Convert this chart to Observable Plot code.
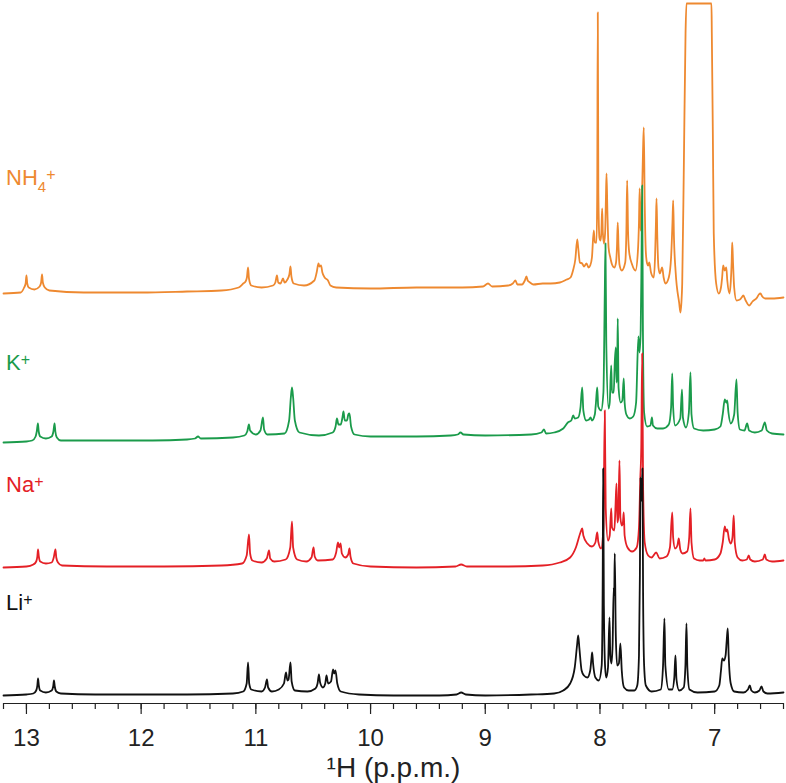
<!DOCTYPE html>
<html><head><meta charset="utf-8">
<script src="https://cdn.jsdelivr.net/npm/d3@7"></script>
<script src="https://cdn.jsdelivr.net/npm/@observablehq/plot@0.6"></script>
<style>body{margin:0;background:#fff;} svg{display:block;}</style>
</head><body><div id="chart"></div>
<script>
// ---- data ----
const seriesKeys = ["Li", "Na", "K", "NH4"];
const seriesMain = ["Li", "Na", "K", "NH"];
const seriesSub = ["", "", "", "4"];
const seriesSup = ["+", "+", "+", "+"];
const colors = ["#111111", "#E42026", "#1B9B4B", "#EE8930"];
const offsets = [8, 136, 261, 411];       // stacking offset of each trace
const labelLift = [85, 75, 72, 107];      // label height above trace baseline

const majorTicks = [13, 12, 11, 10, 9, 8, 7];
const minorTicks = [13.2, 13.0, 12.8, 12.6, 12.4, 12.2, 12.0, 11.8, 11.6, 11.4, 11.2, 11.0, 10.8, 10.6, 10.4, 10.2, 10.0,
  9.8, 9.6, 9.4, 9.2, 9.0, 8.8, 8.6, 8.4, 8.2, 8.0, 7.8, 7.6, 7.4, 7.2, 7.0, 6.8, 6.6, 6.4];
const xDomain = [13.2, 6.4];
const axisTitle = "¹H (p.p.m.)";

// [ppm, intensity]
const li = [[13.2,0],[13.0,1],[12.94,2],[12.915,5],[12.905,10],[12.899,17],[12.892,10],[12.88,5],[12.83,3],[12.78,5],[12.767,9],[12.760,15],[12.753,9],[12.74,4],[12.7,2],[12.4,1],[12.0,1],[11.6,1],[11.2,2],[11.11,4],[11.08,12],[11.068,33],[11.058,12],[11.04,6],[10.95,4],[10.92,8],[10.903,16],[10.893,8],[10.86,4],[10.80,6],[10.755,12],[10.737,23],[10.725,15],[10.715,16],[10.698,33],[10.688,14],[10.66,5],[10.55,4],[10.48,7],[10.462,12],[10.450,21],[10.44,13],[10.415,8],[10.395,12],[10.384,20],[10.37,12],[10.345,14],[10.327,26],[10.317,22],[10.306,25],[10.29,12],[10.26,4],[10.1,1],[9.8,0],[9.4,0],[9.25,1],[9.21,3],[9.17,1],[9.0,0],[8.6,1],[8.4,2],[8.32,5],[8.26,12],[8.22,28],[8.20,50],[8.190,60],[8.18,48],[8.16,25],[8.14,20],[8.11,18],[8.085,25],[8.075,36],[8.068,43],[8.06,32],[8.04,18],[8.01,15],[7.985,30],[7.976,120],[7.972,227],[7.966,90],[7.955,28],[7.945,18],[7.93,28],[7.917,78],[7.91,40],[7.90,32],[7.89,50],[7.880,108],[7.876,100],[7.871,142],[7.862,60],[7.85,30],[7.835,32],[7.822,52],[7.81,25],[7.79,8],[7.75,5],[7.70,5],[7.675,10],[7.66,40],[7.652,120],[7.647,218],[7.640,195],[7.634,200],[7.630,227],[7.624,100],[7.615,30],[7.60,10],[7.55,4],[7.47,6],[7.45,30],[7.438,77],[7.43,30],[7.40,6],[7.37,6],[7.352,18],[7.342,40],[7.333,16],[7.31,5],[7.27,8],[7.255,30],[7.246,72],[7.238,28],[7.22,6],[7.15,3],[7.0,4],[6.96,10],[6.945,25],[6.934,37],[6.92,35],[6.905,40],[6.895,55],[6.886,67],[6.878,40],[6.86,12],[6.83,4],[6.75,3],[6.71,6],[6.694,10],[6.68,5],[6.65,3],[6.61,5],[6.592,9],[6.575,4],[6.54,2],[6.4,3]];

const na = [[13.2,0],[13.0,1],[12.94,3],[12.915,6],[12.905,11],[12.899,18],[12.892,11],[12.88,6],[12.83,4],[12.78,5],[12.762,10],[12.747,18],[12.74,10],[12.725,5],[12.69,2],[12.3,1],[11.8,1],[11.3,2],[11.12,4],[11.08,12],[11.060,33],[11.05,14],[11.03,7],[10.95,5],[10.905,9],[10.885,17],[10.875,9],[10.84,6],[10.74,8],[10.70,20],[10.685,46],[10.675,20],[10.64,8],[10.56,6],[10.515,10],[10.497,20],[10.487,11],[10.46,7],[10.33,8],[10.30,15],[10.284,25],[10.275,20],[10.262,24],[10.25,14],[10.22,10],[10.195,13],[10.184,19],[10.175,11],[10.15,4],[10.0,1],[9.6,0],[9.26,1],[9.21,3],[9.16,1],[8.8,1],[8.5,2],[8.35,5],[8.26,10],[8.21,20],[8.17,35],[8.155,39],[8.145,32],[8.11,24],[8.07,21],[8.04,25],[8.024,35],[8.015,26],[7.99,19],[7.97,40],[7.958,157],[7.950,60],[7.93,27],[7.915,32],[7.902,59],[7.895,40],[7.875,37],[7.865,60],[7.856,84],[7.848,45],[7.840,50],[7.830,107],[7.822,50],[7.81,42],[7.80,45],[7.793,55],[7.785,32],[7.76,20],[7.72,16],[7.68,20],[7.66,40],[7.648,90],[7.640,120],[7.632,214],[7.624,80],[7.61,25],[7.58,12],[7.55,10],[7.51,15],[7.48,9],[7.42,11],[7.39,20],[7.370,55],[7.362,30],[7.345,19],[7.325,22],[7.313,29],[7.30,18],[7.28,14],[7.24,16],[7.222,30],[7.211,59],[7.202,25],[7.18,9],[7.13,7],[7.10,7],[7.090,9],[7.08,7],[7.0,8],[6.95,14],[6.93,25],[6.912,41],[6.90,36],[6.891,38],[6.875,28],[6.86,24],[6.845,30],[6.834,52],[6.825,25],[6.80,10],[6.76,7],[6.72,8],[6.703,12],[6.69,8],[6.65,6],[6.58,8],[6.563,13],[6.55,8],[6.5,6],[6.4,7]];

const k = [[13.2,0],[13.0,1],[12.95,2],[12.92,6],[12.91,11],[12.90,19],[12.893,11],[12.88,6],[12.83,4],[12.78,6],[12.765,11],[12.755,19],[12.748,11],[12.735,5],[12.7,2],[12.3,2],[11.9,2],[11.6,3],[11.53,4],[11.504,6],[11.48,4],[11.2,5],[11.10,7],[11.075,11],[11.060,18],[11.05,12],[11.0,8],[10.96,12],[10.938,25],[10.928,13],[10.90,8],[10.75,9],[10.71,22],[10.695,45],[10.685,55],[10.675,45],[10.66,22],[10.62,10],[10.45,7],[10.33,10],[10.305,16],[10.293,24],[10.28,18],[10.26,18],[10.245,25],[10.236,31],[10.225,22],[10.205,22],[10.194,28],[10.184,29],[10.17,16],[10.14,8],[10.0,6],[9.6,6],[9.3,7],[9.24,8],[9.216,10],[9.19,8],[9.0,7],[8.6,8],[8.51,10],[8.488,13],[8.47,9],[8.40,10],[8.32,14],[8.28,20],[8.25,22],[8.233,27],[8.22,24],[8.19,25],[8.17,35],[8.155,55],[8.145,32],[8.12,22],[8.095,23],[8.082,25],[8.07,22],[8.045,28],[8.035,40],[8.024,55],[8.015,36],[7.99,32],[7.97,50],[7.958,150],[7.952,199],[7.945,100],[7.925,34],[7.915,40],[7.902,77],[7.895,50],[7.88,50],[7.871,80],[7.862,95],[7.855,60],[7.850,70],[7.845,124],[7.838,55],[7.82,40],[7.805,42],[7.793,64],[7.785,40],[7.77,28],[7.74,24],[7.71,26],[7.685,40],[7.665,106],[7.655,90],[7.645,112],[7.638,180],[7.632,257],[7.626,120],[7.615,30],[7.59,16],[7.56,17],[7.547,25],[7.538,17],[7.50,14],[7.45,14],[7.40,18],[7.38,35],[7.370,69],[7.362,35],[7.345,17],[7.30,24],[7.285,53],[7.277,25],[7.25,15],[7.225,30],[7.211,70],[7.202,28],[7.18,14],[7.10,12],[7.0,13],[6.95,16],[6.93,28],[6.912,43],[6.90,40],[6.891,42],[6.88,30],[6.86,19],[6.83,28],[6.81,63],[6.80,30],[6.78,13],[6.74,12],[6.717,19],[6.70,12],[6.65,10],[6.59,12],[6.563,20],[6.545,12],[6.5,9],[6.4,8]];

const nh4 = [[13.2,-1],[13.05,0],[13.02,5],[13.007,9],[13.0,17],[12.993,9],[12.98,5],[12.93,3],[12.885,6],[12.872,10],[12.864,18],[12.857,10],[12.84,5],[12.80,2],[12.5,0],[12.0,0],[11.6,1],[11.3,2],[11.15,5],[11.11,9],[11.09,11],[11.078,15],[11.068,25],[11.06,14],[11.04,7],[10.95,5],[10.85,7],[10.83,10],[10.816,17],[10.805,10],[10.785,9],[10.763,14],[10.75,10],[10.725,13],[10.708,18],[10.698,26],[10.69,16],[10.67,9],[10.58,7],[10.49,12],[10.47,20],[10.454,29],[10.445,26],[10.432,27],[10.42,20],[10.40,15],[10.371,12],[10.35,7],[10.3,5],[10.0,4],[9.6,5],[9.2,5],[9.02,6],[8.976,9],[8.94,6],[8.80,7],[8.76,9],[8.737,12],[8.72,8],[8.68,8],[8.655,12],[8.641,16],[8.63,12],[8.61,10],[8.58,8],[8.5,9],[8.43,9],[8.35,10],[8.29,13],[8.257,15],[8.235,22],[8.215,33],[8.198,53],[8.19,45],[8.175,30],[8.155,29],[8.14,26],[8.117,29],[8.10,25],[8.085,27],[8.07,35],[8.054,62],[8.045,50],[8.03,50],[8.024,100],[8.019,280],[8.014,100],[8.005,55],[7.995,52],[7.988,60],[7.981,84],[7.975,60],[7.965,49],[7.955,60],[7.948,95],[7.943,119],[7.935,80],[7.925,45],[7.91,35],[7.895,28],[7.875,25],[7.86,30],[7.852,45],[7.845,70],[7.838,45],[7.83,28],[7.81,22],[7.78,30],[7.77,60],[7.763,112],[7.755,60],[7.745,40],[7.72,28],[7.69,22],[7.67,40],[7.660,70],[7.654,104],[7.648,75],[7.645,62],[7.635,90],[7.625,140],[7.618,165],[7.610,90],[7.60,40],[7.589,29],[7.58,27],[7.57,30],[7.555,20],[7.531,15],[7.52,35],[7.512,70],[7.507,94],[7.50,55],[7.49,25],[7.478,19],[7.468,22],[7.458,25],[7.445,15],[7.429,9],[7.40,15],[7.38,35],[7.368,70],[7.362,92],[7.355,55],[7.34,20],[7.31,-10],[7.298,-20],[7.29,-10],[7.283,9],[7.269,125],[7.254,259],[7.246,289],[7.028,289],[7.025,260],[7.016,159],[7.008,59],[6.987,9],[6.964,-1],[6.945,5],[6.935,15],[6.926,27],[6.912,22],[6.899,25],[6.89,12],[6.871,-1],[6.86,10],[6.852,30],[6.847,50],[6.84,30],[6.83,5],[6.81,-8],[6.78,-7],[6.765,-5],[6.751,-3],[6.73,-8],[6.70,-13],[6.67,-9],[6.63,-5],[6.615,-2],[6.601,-1],[6.585,-4],[6.56,-6],[6.5,-6],[6.4,-5]];

// ---- build ----
const traces = [li, na, k, nh4];
const rows = traces.flatMap((t, i) => t.map(([ppm, v]) => ({ppm, y: v + offsets[i], key: seriesKeys[i]})));
const FONT = "'Liberation Sans', Arial, Helvetica, sans-serif";
const W = 786, H = 783, MB = 80;

const lineMarks = [3, 2, 1, 0].map(i =>
  Plot.line(rows.filter(r => r.key === seriesKeys[i]), {
    x: "ppm", y: "y", stroke: colors[i], strokeWidth: 1.8, strokeLinejoin: "round", curve: "monotone-x"
  }));

const plot = Plot.plot({
  width: W, height: H,
  marginLeft: 3, marginRight: 3, marginTop: 0, marginBottom: MB,
  style: {fontFamily: FONT, color: "#222", background: "#fff", overflow: "visible"},
  x: {domain: xDomain, label: null},
  y: {domain: [0, H - MB], range: [H - MB, 0], axis: null},
  marks: [
    Plot.axisX({ticks: minorTicks, tickSize: 6, tickFormat: () => "", label: null, strokeWidth: 1.2}),
    Plot.axisX({ticks: majorTicks, tickSize: 11, tickPadding: 14, fontSize: 24, label: null, strokeWidth: 1.2, tickFormat: d => String(d)}),
    Plot.ruleY([0], {stroke: "#222", strokeWidth: 1.2}),
    ...lineMarks,
    Plot.text([axisTitle], {frameAnchor: "bottom", dy: 65, fontSize: 28, lineAnchor: "middle", fill: "#222"})
  ]
});

document.getElementById("chart").appendChild(plot);

// series labels with sub/superscripts, positioned through the plot's scales
const xs = plot.scale("x"), ys = plot.scale("y");
const svg = d3.select(plot);
const g = svg.append("g").attr("font-family", FONT).attr("text-anchor", "start");
seriesKeys.forEach((key, i) => {
  const t = g.append("text")
    .attr("x", xs.apply(xDomain[0]) + 3)
    .attr("y", ys.apply(offsets[i] + labelLift[i]))
    .attr("fill", colors[i])
    .attr("text-anchor", "start")
    .attr("font-size", 22);
  t.append("tspan").text(seriesMain[i]);
  if (seriesSub[i]) {
    t.append("tspan").attr("font-size", 15).attr("dy", 7).text(seriesSub[i]);
    t.append("tspan").attr("font-size", 16).attr("dy", -12).text(seriesSup[i]);
  } else {
    t.append("tspan").attr("font-size", 16).attr("dy", -5).text(seriesSup[i]);
  }
});
</script>
</body></html>
